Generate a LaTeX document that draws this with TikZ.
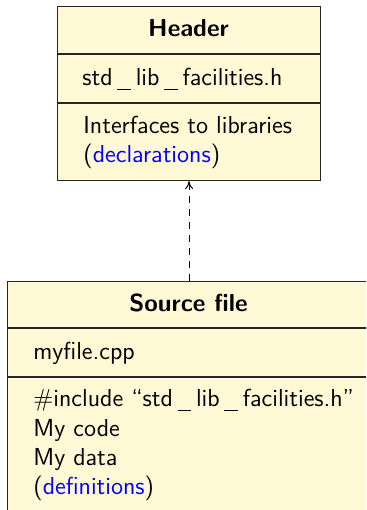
\documentclass[tikz,border=0pt]{standalone}
\usepackage{fontspec}
\usetikzlibrary{arrows.meta}
\definecolor{notefill}{RGB}{255,249,214}
\definecolor{declblue}{RGB}{0,0,255}
% spaced underscore, as in file names
\newcommand\uscore{\kern.19em\rule[-2.5pt]{.56em}{0.6pt}\kern.19em}
\begin{document}
\begin{tikzpicture}[x=0.5pt,y=-0.5pt,
  txt/.style={font=\sffamily\fontsize{12.3}{15}\selectfont, inner sep=0pt},
  classbox/.style={draw=black!85, line width=0.55pt, fill=notefill, rectangle,
    inner sep=0pt, anchor=north west},
  divider/.style={draw=black!85, line width=0.55pt},
  title/.style={txt, font=\sffamily\bfseries\fontsize{12.3}{15}\selectfont, anchor=base},
  entry/.style={txt, anchor=base west},
  depends/.style={line width=0.5pt, dash pattern=on 3.5pt off 3pt,
    -{To[length=4pt,width=4pt]}},
]
\clip (0,0) rectangle (366,510);

% header file
\node[classbox, minimum width=131.5pt, minimum height=87pt] (hdr) at (57,6) {};
\draw[divider] (hdr.west |- 0,54) -- (hdr.east |- 0,54);
\draw[divider] (hdr.west |- 0,103) -- (hdr.east |- 0,103);
\node[title] (hdrtitle) at (188.5,36) {Header};
\node[entry] (hdrname) at (82,85) {std\uscore lib\uscore facilities.h};
\node[entry] (hdrl1) at (83,133) {Interfaces to libraries};
\node[entry] (hdrl2) at (83,162) {(\textcolor{declblue}{declarations})};

% source file
\node[classbox, minimum width=190pt, minimum height=130pt] (src) at (7,281) {};
\draw[divider] (src.west |- 0,328) -- (src.east |- 0,328);
\draw[divider] (src.west |- 0,377) -- (src.east |- 0,377);
\node[title] (srctitle) at (188.5,311) {Source file};
\node[entry] (srcname) at (33,359) {myfile.cpp};
\node[entry] (srcl1) at (33,406) {\#include ``std\uscore lib\uscore facilities.h''};
\node[entry] (srcl2) at (33,436) {My code};
\node[entry] (srcl3) at (33,465) {My data};
\node[entry] (srcl4) at (33,494) {(\textcolor{declblue}{definitions})};

% dependency of the source file on the header
\coordinate (tail) at (hdr.south |- src.north);
\draw[depends] (tail) -- (hdr.south);
\end{tikzpicture}
\end{document}
